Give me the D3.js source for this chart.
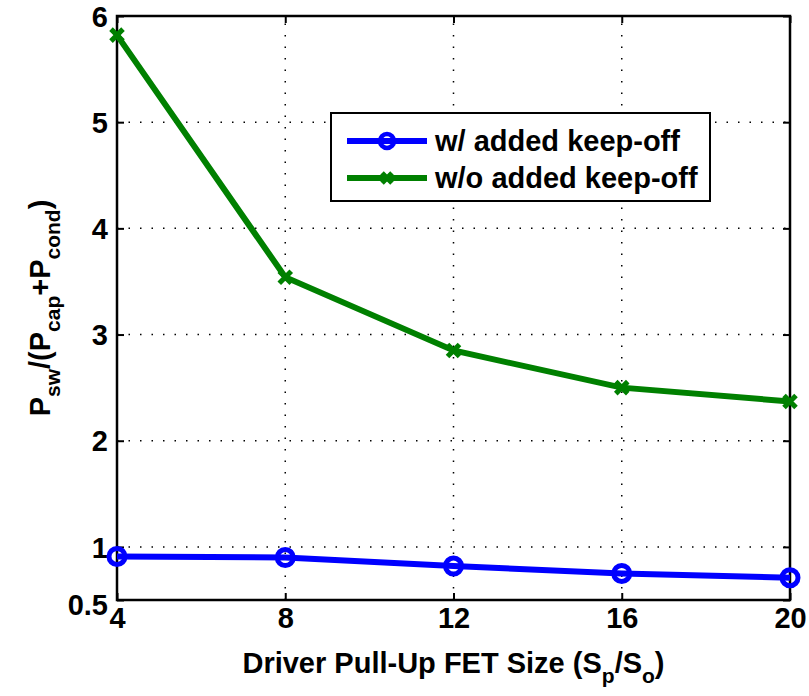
<!DOCTYPE html>
<html>
<head>
<meta charset="utf-8">
<script src="https://cdn.jsdelivr.net/npm/d3@7"></script>
<style>
  body { margin: 0; background: #fff; }
  text { font-family: "Liberation Sans", Arial, sans-serif; font-weight: bold; }
</style>
</head>
<body>
<div class="chart"></div>
<script>
var sizes = [4, 8, 12, 16, 20];
var withKeepOff = [0.91, 0.90, 0.82, 0.75, 0.71];
var withoutKeepOff = [5.82, 3.54, 2.85, 2.50, 2.37];
var xTicks = [4, 8, 12, 16, 20];
var yTicks = [0.5, 1, 2, 3, 4, 5, 6];
var seriesNames = ["w/ added keep-off", "w/o added keep-off"];

var opts = { width: 809, height: 696, left: 117, right: 790, top: 16, bottom: 600, font: 29, sub: 21 };

var svg = d3.select(".chart").append("svg")
  .attr("width", opts.width)
  .attr("height", opts.height);

var x = d3.scaleLinear().domain([4, 20]).range([opts.left, opts.right]);
var y = d3.scaleLinear().domain([0.5, 6]).range([opts.bottom, opts.top]);

// grid
var grid = svg.append("g").attr("stroke", "#000").attr("stroke-width", 1.5)
  .attr("stroke-dasharray", "1.5,10");
xTicks.slice(1, -1).forEach(function (t) {
  grid.append("line").attr("x1", x(t)).attr("x2", x(t))
    .attr("y1", opts.bottom).attr("y2", opts.top);
});
yTicks.slice(1, -1).forEach(function (t) {
  grid.append("line").attr("y1", y(t)).attr("y2", y(t))
    .attr("x1", opts.left).attr("x2", opts.right);
});

// axes (inner ticks, mirrored)
var tickLen = 7;
var fmt = d3.format("~g");
var axB = svg.append("g").attr("transform", "translate(0," + opts.bottom + ")")
  .call(d3.axisBottom(x).tickValues(xTicks).tickFormat(fmt).tickSizeInner(-tickLen).tickSizeOuter(0).tickPadding(18));
var axT = svg.append("g").attr("transform", "translate(0," + opts.top + ")")
  .call(d3.axisTop(x).tickValues(xTicks).tickSizeInner(-tickLen).tickSizeOuter(0).tickFormat(""));
var axL = svg.append("g").attr("transform", "translate(" + opts.left + ",0)")
  .call(d3.axisLeft(y).tickValues(yTicks).tickFormat(fmt).tickSizeInner(-tickLen).tickSizeOuter(0).tickPadding(9));
var axR = svg.append("g").attr("transform", "translate(" + opts.right + ",0)")
  .call(d3.axisRight(y).tickValues(yTicks).tickSizeInner(-tickLen).tickSizeOuter(0).tickFormat(""));

[axB, axT, axL, axR].forEach(function (a) {
  a.select(".domain").remove();
  a.selectAll(".tick line").attr("stroke", "#000").attr("stroke-width", 2);
  a.selectAll("text").attr("font-size", opts.font).attr("fill", "#000")
    .style("font-family", '"Liberation Sans", Arial, sans-serif').style("font-weight", "bold");
});
axL.selectAll(".tick text").attr("dy", "0.35em");
axL.selectAll(".tick").filter(function (d) { return d === 0.5; }).select("text").attr("dy", "0.5em");
axB.selectAll(".tick text").attr("dy", "0.35em");

// frame
svg.append("rect")
  .attr("x", opts.left).attr("y", opts.top)
  .attr("width", opts.right - opts.left).attr("height", opts.bottom - opts.top)
  .attr("fill", "none").attr("stroke", "#000").attr("stroke-width", 2.5);

var line = d3.line().x(function (d) { return x(d[0]); }).y(function (d) { return y(d[1]); });

var blueData = sizes.map(function (s, i) { return [s, withKeepOff[i]]; });
var greenData = sizes.map(function (s, i) { return [s, withoutKeepOff[i]]; });

var crossPath = "M-6,-6L6,6M6,-6L-6,6";

// blue series
svg.append("path").datum(blueData).attr("d", line)
  .attr("fill", "none").attr("stroke", "#0000ff").attr("stroke-width", 6);
svg.selectAll(".blueMark").data(blueData).enter().append("circle")
  .attr("class", "blueMark")
  .attr("cx", function (d) { return x(d[0]); })
  .attr("cy", function (d) { return y(d[1]); })
  .attr("r", 8).attr("fill", "none").attr("stroke", "#0000ff").attr("stroke-width", 5);

// green series
svg.append("path").datum(greenData).attr("d", line)
  .attr("fill", "none").attr("stroke", "#008000").attr("stroke-width", 6);
svg.selectAll(".greenMark").data(greenData).enter().append("path")
  .attr("class", "greenMark")
  .attr("transform", function (d) { return "translate(" + x(d[0]) + "," + y(d[1]) + ")"; })
  .attr("d", crossPath).attr("stroke", "#008000").attr("stroke-width", 5);

// legend
var legend = svg.append("g");
legend.append("rect").attr("x", 331).attr("y", 113).attr("width", 379).attr("height", 88)
  .attr("fill", "#fff").attr("stroke", "#000").attr("stroke-width", 2);
var rows = [
  { name: seriesNames[0], color: "#0000ff", y: 141, mark: "circle" },
  { name: seriesNames[1], color: "#008000", y: 178, mark: "cross" }
];
rows.forEach(function (r) {
  legend.append("line").attr("x1", 347).attr("x2", 427).attr("y1", r.y).attr("y2", r.y)
    .attr("stroke", r.color).attr("stroke-width", 6);
  if (r.mark === "circle") {
    legend.append("circle").attr("cx", 387).attr("cy", r.y).attr("r", 7)
      .attr("fill", "none").attr("stroke", r.color).attr("stroke-width", 4.5);
  } else {
    legend.append("path").attr("transform", "translate(387," + r.y + ")")
      .attr("d", "M-5,-5L5,5M5,-5L-5,5").attr("stroke", r.color).attr("stroke-width", 5);
  }
  legend.append("text").attr("x", 435).attr("y", r.y).attr("dy", "0.35em")
    .attr("font-size", opts.font).text(r.name);
});

// axis labels
var xl = svg.append("text").attr("x", (opts.left + opts.right) / 2).attr("y", 673)
  .attr("text-anchor", "middle").attr("font-size", opts.font);
xl.append("tspan").text("Driver Pull-Up FET Size (S");
xl.append("tspan").attr("font-size", opts.sub).attr("dy", 10).text("p");
xl.append("tspan").attr("dy", -10).text("/S");
xl.append("tspan").attr("font-size", opts.sub).attr("dy", 10).text("o");
xl.append("tspan").attr("dy", -10).text(")");

var yl = svg.append("text")
  .attr("transform", "translate(50," + (opts.top + opts.bottom) / 2 + ") rotate(-90)")
  .attr("text-anchor", "middle").attr("font-size", opts.font);
yl.append("tspan").text("P");
yl.append("tspan").attr("font-size", opts.sub).attr("dy", 10).text("sw");
yl.append("tspan").attr("dy", -10).text("/(P");
yl.append("tspan").attr("font-size", opts.sub).attr("dy", 10).text("cap");
yl.append("tspan").attr("dy", -10).text("+P");
yl.append("tspan").attr("font-size", opts.sub).attr("dy", 10).text("cond");
yl.append("tspan").attr("dy", -10).text(")");
</script>
</body>
</html>
